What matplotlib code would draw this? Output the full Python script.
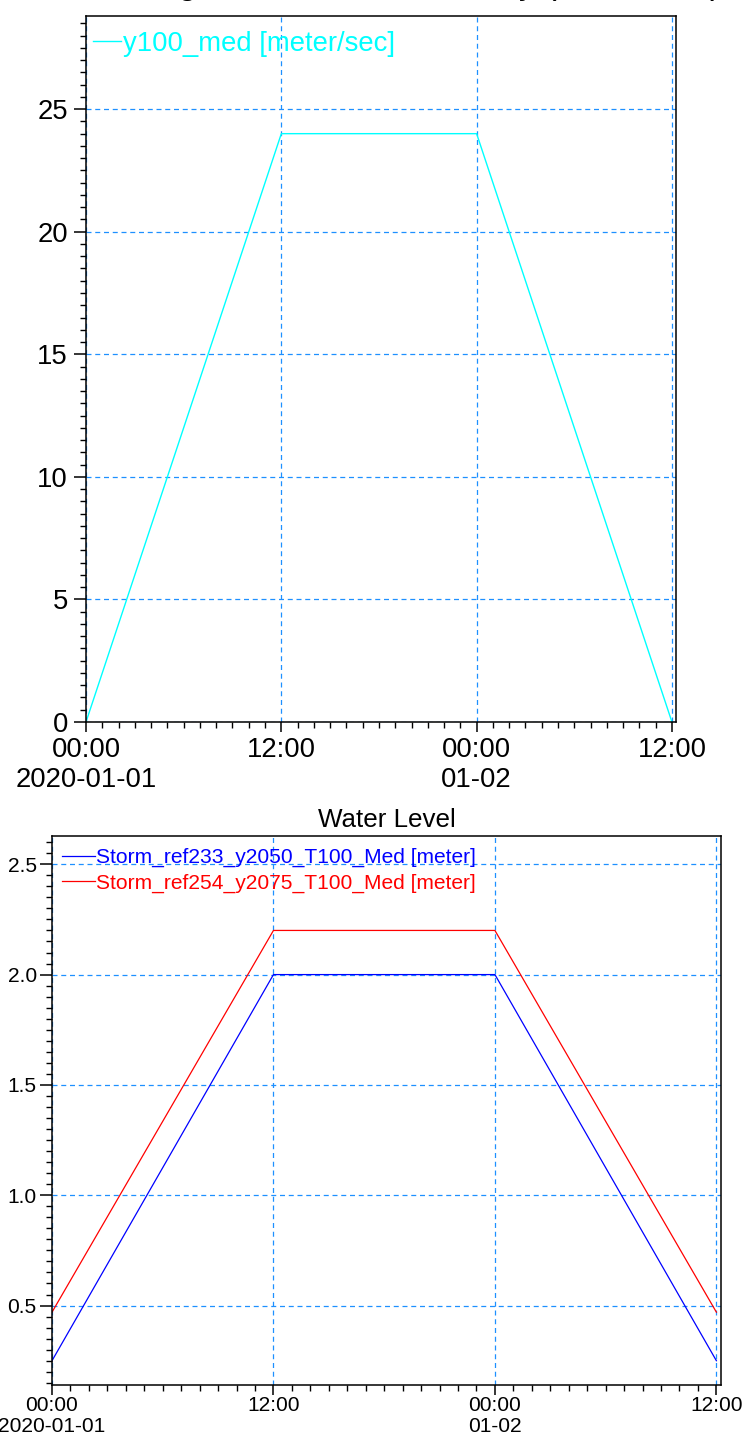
import datetime as dt
import matplotlib
matplotlib.use("Agg")
import matplotlib.pyplot as plt
import matplotlib.dates as mdates
from matplotlib.ticker import MultipleLocator

plt.rcParams['font.family'] = ['Liberation Sans', 'DejaVu Sans']

# ---------------- data ----------------
t0 = dt.datetime(2020, 1, 1, 0, 0)
hours = [0, 12, 24, 36]
times = [t0 + dt.timedelta(hours=h) for h in hours]

wind_label = "y100_med [meter/sec]"
wind_values = [0, 24, 24, 0]

wl_labels = ["Storm_ref233_y2050_T100_Med [meter]",
             "Storm_ref254_y2075_T100_Med [meter]"]
wl_blue = [0.25, 2.0, 2.0, 0.25]
wl_red = [0.47, 2.2, 2.2, 0.47]

xtick_times = [t0 + dt.timedelta(hours=h) for h in [0, 12, 24, 36]]
xtick_labels = ["00:00\n2020-01-01", "12:00", "00:00\n01-02", "12:00"]

top_title = "Wind Magnitude, Storm Intensity (T100 Med)"
bottom_title = "Water Level"

# ---------------- figure ----------------
W, H = 745, 1441
fig = plt.figure(figsize=(W / 100, H / 100), dpi=100)


def fx(px):
    return px / W


def fy(py):
    return 1 - py / H


grid_color = '#1E90FF'
xmax = t0 + dt.timedelta(hours=36.25)


def style_axes(ax, fs, ymajor, yminor, ypad, xpad, lsp):
    for s in ax.spines.values():
        s.set_linewidth(1.1)
        s.set_color('black')
    ax.set_xlim(t0, xmax)
    ax.set_xticks(xtick_times)
    ax.set_xticklabels(xtick_labels)
    ax.xaxis.set_minor_locator(mdates.HourLocator(interval=1))
    ax.yaxis.set_major_locator(MultipleLocator(ymajor))
    ax.yaxis.set_minor_locator(MultipleLocator(yminor))
    ax.tick_params(axis='both', which='major', direction='out', length=7,
                   width=1.1, labelsize=fs, top=False, right=False)
    ax.tick_params(axis='both', which='minor', direction='out', length=4,
                   width=1.0, top=False, right=False)
    ax.tick_params(axis='y', which='major', pad=ypad, length=9)
    ax.tick_params(axis='x', which='major', pad=xpad)
    ax.grid(True, which='major', color=grid_color, linestyle=(0, (4, 3)),
            linewidth=0.9)
    for lbl in ax.get_xticklabels():
        lbl.set_linespacing(lsp)


# ---- top panel ----
ax1 = fig.add_axes([fx(86), fy(722), fx(676) - fx(86), fy(16) - fy(722)])
ax1.plot(times, wind_values, color='#00FFFF', linewidth=1.0, label=wind_label)
ax1.set_ylim(0, 28.8)
style_axes(ax1, 19.8, 5, 0.5, 4, 4, 1.2)
ax1.legend(loc='upper left', bbox_to_anchor=(fx(93), fy(31)),
           bbox_transform=fig.transFigure, frameon=False, fontsize=19.8,
           handlelength=1.0, handletextpad=0.08, borderpad=0,
           borderaxespad=0, labelcolor='linecolor')
fig.text(fx(383), fy(-6), top_title, ha='center', va='baseline',
         fontsize=24.5, color='black')

# ---- bottom panel ----
ax2 = fig.add_axes([fx(52), fy(1385), fx(721) - fx(52), fy(836) - fy(1385)])
ax2.plot(times, wl_blue, color='#0000FF', linewidth=0.9, label=wl_labels[0])
ax2.plot(times, wl_red, color='#FF0000', linewidth=0.9, label=wl_labels[1])
ax2.set_ylim(0.14, 2.628)
style_axes(ax2, 15.1, 0.5, 0.05, 2, 1, 1.1)
ax2.legend(loc='upper left', bbox_to_anchor=(fx(62), fy(848)),
           bbox_transform=fig.transFigure, frameon=False, fontsize=15.1,
           handlelength=1.57, handletextpad=0.05, borderpad=0,
           borderaxespad=0, labelspacing=0.3, labelcolor='linecolor')
fig.text(fx(386.5), fy(827), bottom_title, ha='center', va='baseline',
         fontsize=18.7, color='black')

fig.savefig('out.png', dpi=100)
